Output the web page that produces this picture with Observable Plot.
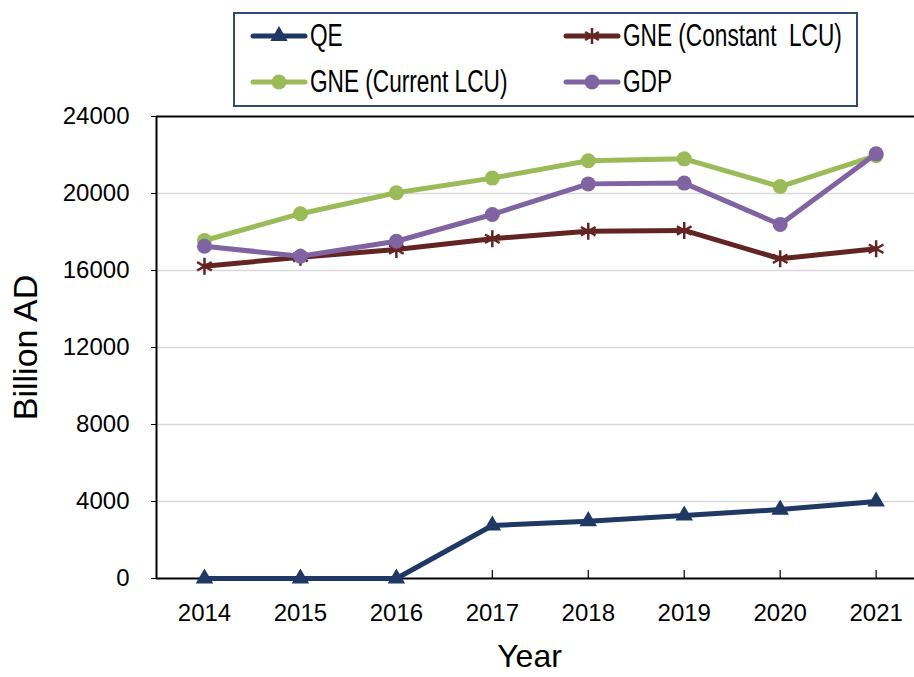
<!DOCTYPE html>
<html>
<head>
<meta charset="utf-8">
<script src="https://cdn.jsdelivr.net/npm/d3@7"></script>
<script src="https://cdn.jsdelivr.net/npm/@observablehq/plot@0.6"></script>
<style>
  html, body { margin: 0; padding: 0; background: #fff; }
  #wrap { position: relative; width: 914px; height: 677px; overflow: hidden; font-family: "Liberation Sans", Arial, sans-serif; }
  #legend { position: absolute; left: 233px; top: 12px; width: 621px; height: 91px; border: 2px solid #2f4b74; background: #fff; box-sizing: content-box; }
  .item { position: absolute; height: 30px; display: flex; align-items: center; white-space: pre; }
  .item svg { display: block; }
  .item span { display: inline-block; white-space: pre; font-size: 31px; transform: scaleX(0.73); transform-origin: left center; margin-left: 2px; color: #000; }
</style>
</head>
<body>
<div id="wrap"><div id="chart"></div><div id="legend"></div></div>
<script>
const years = [2014, 2015, 2016, 2017, 2018, 2019, 2020, 2021];
const seriesNames = ["QE", "GNE (Constant  LCU)", "GNE (Current LCU)", "GDP"];
const qe = [0, 0, 0, 2750, 2980, 3270, 3580, 4000];
const gneConstant = [16220, 16690, 17090, 17650, 18040, 18080, 16610, 17130];
const gneCurrent = [17560, 18950, 20040, 20800, 21700, 21800, 20360, 21970];
const gdp = [17260, 16740, 17520, 18910, 20500, 20540, 18390, 22060];
const yTicks = [0, 4000, 8000, 12000, 16000, 20000, 24000];
const colors = ["#1f3864", "#632523", "#9bbb59", "#8064a2"];
const symbols = ["triangle", "asterisk", "circle", "circle"];

const valuesBySeries = [qe, gneConstant, gneCurrent, gdp];
const table = [];
seriesNames.forEach((s, i) => years.forEach((y, j) => table.push({series: s, year: y, value: valuesBySeries[i][j]})));

const W = 914, H = 677, mt = 116, mb = 99, ml = 156, mr = 0;
const frameH = H - mt - mb;
const xDomain = [years[0] - 0.5, years[years.length - 1] + 0.4];
const yDomain = [yTicks[0], yTicks[yTicks.length - 1]];

const marks = [
  Plot.gridY(yTicks.slice(1, -1), {stroke: "#d9d9d9", strokeOpacity: 1, strokeWidth: 1.5}),
  Plot.ruleY([yDomain[1]], {stroke: "#000", strokeWidth: 2}),
  Plot.ruleY([yDomain[0]], {stroke: "#000", strokeWidth: 2}),
  Plot.ruleX([xDomain[0]], {stroke: "#000", strokeWidth: 2}),
  Plot.tickX(years, {x: d => d, stroke: "#000", strokeWidth: 1.2, insetTop: frameH - 8}),
  Plot.axisY({ticks: yTicks, tickFormat: d => String(d), tickSize: 5, tickPadding: 22, fontSize: 24, label: null, stroke: "#000"}),
  Plot.axisX({ticks: years, tickFormat: d => String(d), tickSize: 0, tickPadding: 25, fontSize: 24, label: null}),
  Plot.text(["Billion AD"], {text: d => d, frameAnchor: "left", textAnchor: "middle", rotate: -90, dx: -130, fontSize: 34, fill: "#000"}),
  Plot.text(["Year"], {text: d => d, frameAnchor: "bottom", textAnchor: "middle", dx: -6, dy: 88, fontSize: 32, fill: "#000"})
];

seriesNames.forEach((s, i) => {
  const data = table.filter(d => d.series === s);
  marks.push(Plot.line(data, {x: "year", y: "value", stroke: colors[i], strokeWidth: 5, strokeLinejoin: "round", strokeLinecap: "round"}));
  if (symbols[i] === "asterisk") {
    marks.push(Plot.dot(data, {x: "year", y: "value", symbol: "asterisk", r: 8, stroke: colors[i], strokeWidth: 2.5}));
  } else if (symbols[i] === "triangle") {
    marks.push(Plot.dot(data, {x: "year", y: "value", symbol: "triangle", r: 6.5, fill: colors[i], stroke: "none"}));
  } else {
    marks.push(Plot.dot(data, {x: "year", y: "value", symbol: "circle", r: 7.5, fill: colors[i], stroke: "none"}));
  }
});

const chart = Plot.plot({
  width: W, height: H,
  marginTop: mt, marginBottom: mb, marginLeft: ml, marginRight: mr,
  style: {fontFamily: '"Liberation Sans", Arial, sans-serif', background: "transparent", color: "#000", overflow: "visible"},
  x: {type: "linear", domain: xDomain},
  y: {domain: yDomain},
  marks
});
document.getElementById("chart").appendChild(chart);

// Legend
const legend = d3.select("#legend");
const legendPos = [[15, 7], [328, 7], [15, 53], [328, 53]];
seriesNames.forEach((s, i) => {
  const item = legend.append("div").attr("class", "item").style("left", legendPos[i][0] + "px").style("top", legendPos[i][1] + "px");
  const svg = item.append("svg").attr("width", 58).attr("height", 30);
  svg.append("line").attr("x1", 3).attr("x2", 55).attr("y1", 15).attr("y2", 15)
    .attr("stroke", colors[i]).attr("stroke-width", 5).attr("stroke-linecap", "round");
  const symType = symbols[i] === "triangle" ? d3.symbolTriangle : symbols[i] === "asterisk" ? d3.symbolAsterisk : d3.symbolCircle;
  const size = symbols[i] === "triangle" ? 130 : symbols[i] === "asterisk" ? 180 : 175;
  const p = svg.append("path").attr("transform", "translate(29,15)").attr("d", d3.symbol(symType, size)());
  if (symbols[i] === "asterisk") p.attr("fill", "none").attr("stroke", colors[i]).attr("stroke-width", 2.5);
  else p.attr("fill", colors[i]);
  item.append("span").text(s);
});
</script>
</body>
</html>
